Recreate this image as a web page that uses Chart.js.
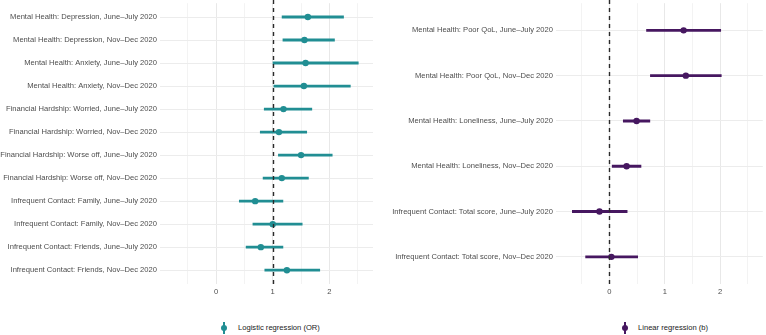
<!DOCTYPE html>
<html>
<head>
<meta charset="utf-8">
<script src="https://cdn.jsdelivr.net/npm/chart.js@4.4.1/dist/chart.umd.min.js"></script>
<style>
  html, body { margin: 0; padding: 0; background: #ffffff; }
  #wrap { position: relative; width: 766px; height: 335px; font-family: "Liberation Sans", Arial, sans-serif; }
  .box { position: absolute; top: 0; width: 383px; height: 300px; }
  .leg { position: absolute; top: 321px; height: 14px; font-size: 7.6px; color: #1a1a1a; line-height: 14px; white-space: nowrap; }
  .leg canvas { position: absolute; left: 0; top: 0; }
  .leg span { position: absolute; top: 0; }
</style>
</head>
<body>
<div id="wrap">
  <div class="box" style="left:0"><canvas id="c1"></canvas></div>
  <div class="box" style="left:383px"><canvas id="c2"></canvas></div>
  <div class="leg" style="left:219px;width:140px"><canvas id="l1" width="10" height="14"></canvas><span style="left:19px">Logistic regression (OR)</span></div>
  <div class="leg" style="left:620px;width:140px"><canvas id="l2" width="10" height="14"></canvas><span style="left:18px">Linear regression (b)</span></div>
</div>
<script>
// ---------- Data ----------
const logisticLabels = [
  "Mental Health: Depression, June–July 2020",
  "Mental Health: Depression, Nov–Dec 2020",
  "Mental Health: Anxiety, June–July 2020",
  "Mental Health: Anxiety, Nov–Dec 2020",
  "Financial Hardship: Worried, June–July 2020",
  "Financial Hardship: Worried, Nov–Dec 2020",
  "Financial Hardship: Worse off, June–July 2020",
  "Financial Hardship: Worse off, Nov–Dec 2020",
  "Infrequent Contact: Family, June–July 2020",
  "Infrequent Contact: Family, Nov–Dec 2020",
  "Infrequent Contact: Friends, June–July 2020",
  "Infrequent Contact: Friends, Nov–Dec 2020"
];
const logisticEst = [1.62, 1.56, 1.58, 1.55, 1.19, 1.11, 1.50, 1.16, 0.69, 1.00, 0.79, 1.25];
const logisticLow = [1.165, 1.18, 1.005, 1.02, 0.85, 0.78, 1.10, 0.83, 0.41, 0.65, 0.53, 0.86];
const logisticHigh = [2.25, 2.09, 2.51, 2.37, 1.69, 1.60, 2.05, 1.63, 1.18, 1.52, 1.18, 1.83];

const linearLabels = [
  "Mental Health: Poor QoL, June–July 2020",
  "Mental Health: Poor QoL, Nov–Dec 2020",
  "Mental Health: Loneliness, June–July 2020",
  "Mental Health: Loneliness, Nov–Dec 2020",
  "Infrequent Contact: Total score, June–July 2020",
  "Infrequent Contact: Total score, Nov–Dec 2020"
];
const linearEst = [1.34, 1.38, 0.49, 0.31, -0.18, 0.035];
const linearLow = [0.67, 0.74, 0.25, 0.05, -0.67, -0.43];
const linearHigh = [2.01, 2.02, 0.73, 0.57, 0.32, 0.51];

const xTickValues = [-0.5, 0, 0.5, 1, 1.5, 2, 2.5];
const xTickLabels = ["", "0", "", "1", "", "2", ""];

// ---------- Styling ----------
const TEAL = "#218e93";
const PURPLE = "#461760";
const FONT = "'Liberation Sans', Arial, sans-serif";
const FS = 7.6;

const refLinePlugin = {
  id: "refLine",
  afterDatasetsDraw(chart, args, opts) {
    const xs = chart.scales.x;
    const ca = chart.chartArea;
    const px = Math.round(xs.getPixelForValue(opts.value)) + 0.5;
    const ctx = chart.ctx;
    ctx.save();
    ctx.strokeStyle = "#2b2b2b";
    ctx.lineWidth = 1.4;
    ctx.setLineDash([4, 4]);
    ctx.beginPath();
    ctx.moveTo(px, 0);
    ctx.lineTo(px, ca.bottom);
    ctx.stroke();
    ctx.restore();
  }
};

function makeChart(id, labels, est, low, high, color, xmin, xmax, yAxisWidth, refValue, rightPad) {
  const n = labels.length;
  const bars = labels.map((_, i) => ({ y: i, x: [low[i], high[i]] }));
  const pts = labels.map((_, i) => ({ y: i, x: est[i] }));
  return new Chart(document.getElementById(id), {
    type: "bar",
    data: {
      datasets: [
        {
          type: "scatter",
          data: pts,
          backgroundColor: color,
          borderColor: color,
          pointRadius: 3.2,
          pointHoverRadius: 3.2,
          borderWidth: 0,
          order: 0
        },
        {
          type: "bar",
          data: bars,
          backgroundColor: color,
          borderWidth: 0,
          barThickness: 2.2,
          borderSkipped: false,
          order: 1
        }
      ]
    },
    options: {
      indexAxis: "y",
      responsive: false,
      animation: false,
      events: [],
      layout: { padding: { top: 2, right: rightPad, left: 0, bottom: 0 } },
      plugins: {
        legend: { display: false },
        tooltip: { enabled: false },
        refLine: { value: refValue }
      },
      scales: {
        x: {
          type: "linear",
          min: xmin,
          max: xmax,
          offset: false,
          border: { display: false },
          afterBuildTicks(scale) {
            scale.ticks = xTickValues.map(v => ({ value: v }));
          },
          afterFit(scale) {
            scale.height = 16;
            scale.paddingLeft = 0;
            scale.paddingRight = 0;
          },
          ticks: {
            autoSkip: false,
            maxRotation: 0,
            padding: 3,
            color: "#4d4d4d",
            font: { family: FONT, size: FS },
            callback: (v, i) => xTickLabels[i]
          },
          grid: {
            drawTicks: false,
            offset: false,
            color: ctx => (Number.isInteger(ctx.tick && ctx.tick.value) ? "#e8e8e8" : "#f3f3f3"),
            lineWidth: 1
          }
        },
        y: {
          type: "linear",
          reverse: true,
          offset: false,
          min: -0.6,
          max: n - 1 + 0.6,
          border: { display: false },
          afterBuildTicks(scale) {
            scale.ticks = labels.map((_, i) => ({ value: i }));
          },
          afterFit(scale) {
            scale.width = yAxisWidth;
            scale.paddingTop = 0;
            scale.paddingBottom = 0;
          },
          ticks: {
            autoSkip: false,
            padding: 3,
            color: "#4d4d4d",
            font: { family: FONT, size: FS },
            callback: (v) => labels[v]
          },
          grid: {
            drawTicks: false,
            offset: false,
            color: "#ececec",
            lineWidth: 1
          }
        }
      }
    },
    plugins: [refLinePlugin]
  });
}

function setup(id, w, h) {
  const c = document.getElementById(id);
  c.width = w; c.height = h;
  c.style.width = w + "px"; c.style.height = h + "px";
}
setup("c1", 383, 300);
setup("c2", 383, 300);

makeChart("c1", logisticLabels, logisticEst, logisticLow, logisticHigh, TEAL, -0.99, 2.77, 160, 1, 10);
makeChart("c2", linearLabels, linearEst, linearLow, linearHigh, PURPLE, -0.965, 2.77, 173, 0, 2);

function legendGlyph(id, color) {
  const c = document.getElementById(id);
  const ctx = c.getContext("2d");
  ctx.fillStyle = color;
  ctx.fillRect(4, 1, 2, 12);
  ctx.beginPath();
  ctx.arc(5, 7, 3, 0, Math.PI * 2);
  ctx.fill();
}
legendGlyph("l1", TEAL);
legendGlyph("l2", PURPLE);
</script>
</body>
</html>
